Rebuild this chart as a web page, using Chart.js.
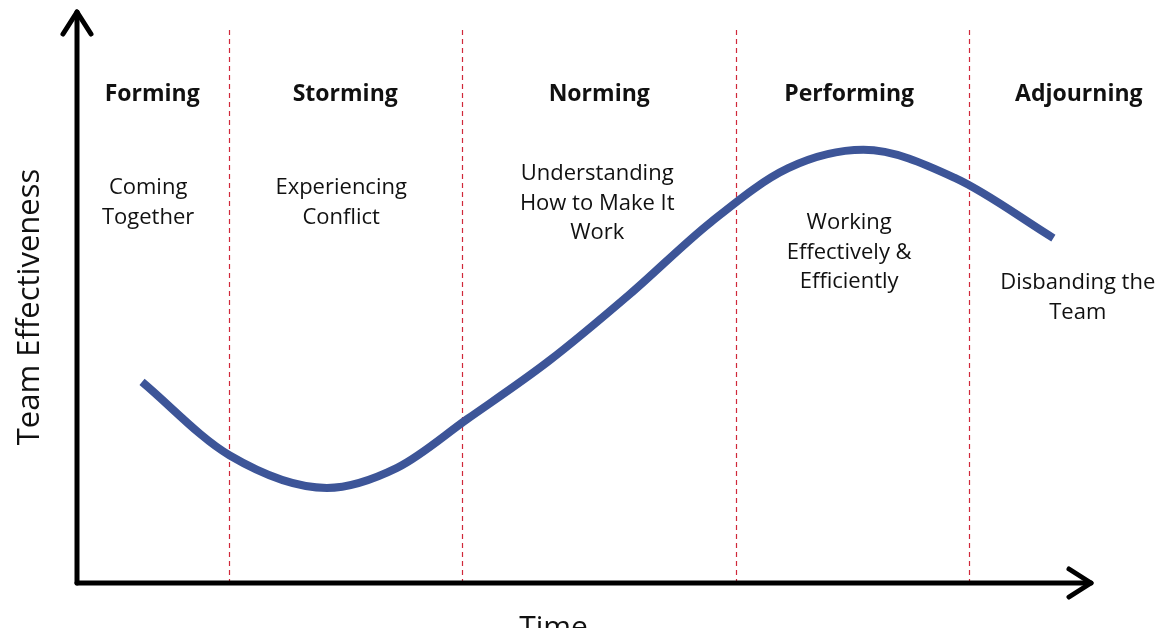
<!DOCTYPE html>
<html>
<head>
<meta charset="utf-8">
<script src="https://cdn.jsdelivr.net/npm/chart.js@4"></script>
<style>
  html, body { margin: 0; padding: 0; background: #fff; }
  .wrap { width: 1166px; height: 628px; }
</style>
</head>
<body>
<div class="wrap"><canvas id="teamChart"></canvas></div>
<script>
// ---------------------------- data ------------------------------
// time on x (0..100), effectiveness on y (0..100)
var timePoints = [6.4, 15.0, 24.6, 31.5, 38.4, 46.4, 54.4, 62.4, 70.0, 77.4, 86.4, 96.1];
var effectiveness = [35.1, 22.3, 16.6, 20.1, 28.6, 38.7, 50.4, 63.0, 72.4, 75.6, 70.7, 60.2];

var stageNames = ['Forming', 'Storming', 'Norming', 'Performing', 'Adjourning'];
var stageNotes = [
    ['Coming', 'Together'],
    ['Experiencing', 'Conflict'],
    ['Understanding', 'How to Make It', 'Work'],
    ['Working', 'Effectively &', 'Efficiently'],
    ['Disbanding the', 'Team']
];
var stageBounds = [15.0, 37.9, 64.9, 87.8];

var xTitle = 'Time';
var yTitle = 'Team Effectiveness';


// ---------------------------- drawing helpers ------------------------------

var fontFam = '"Open Sans", "Noto Sans", sans-serif';

// layout of the text blocks (x in time units, y in pixels)
var nameX = [7.4, 26.4, 51.4, 76.0, 98.6];
var noteX = [7.0, 26.0, 51.2, 76.0, 98.5];
var noteTop = [188, 188, 174, 223, 283];

function drawArrowAxes(chart) {
    let ctx = chart.ctx;
    let a = chart.chartArea;
    ctx.save();
    ctx.strokeStyle = '#000';
    ctx.lineWidth = 5;
    ctx.lineCap = 'round';
    ctx.lineJoin = 'round';

    // y axis
    ctx.beginPath();
    ctx.moveTo(a.left, a.bottom);
    ctx.lineTo(a.left, a.top + 2);
    ctx.stroke();
    ctx.beginPath();
    ctx.moveTo(a.left - 14, a.top + 24);
    ctx.lineTo(a.left, a.top + 2);
    ctx.lineTo(a.left + 14, a.top + 24);
    ctx.stroke();

    // x axis
    ctx.beginPath();
    ctx.moveTo(a.left, a.bottom);
    ctx.lineTo(a.right - 2, a.bottom);
    ctx.stroke();
    ctx.beginPath();
    ctx.moveTo(a.right - 24, a.bottom - 14);
    ctx.lineTo(a.right - 2, a.bottom);
    ctx.lineTo(a.right - 24, a.bottom + 14);
    ctx.stroke();
    ctx.restore();
}

const stagePlugin = {
    id: 'stages',
    beforeDatasetsDraw(chart) {
        let ctx = chart.ctx;
        let a = chart.chartArea;
        let xs = chart.scales.x;

        ctx.save();
        ctx.strokeStyle = '#d0283a';
        ctx.lineWidth = 1.2;
        ctx.setLineDash([5, 4]);
        stageBounds.forEach(b => {
            let px = Math.round(xs.getPixelForValue(b)) + 0.5;
            ctx.beginPath();
            ctx.moveTo(px, a.top + 20);
            ctx.lineTo(px, a.bottom);
            ctx.stroke();
        });
        ctx.restore();

        ctx.save();
        ctx.fillStyle = '#111';
        ctx.textAlign = 'center';
        ctx.textBaseline = 'middle';
        stageNames.forEach((name, i) => {
            ctx.font = 'bold 23px ' + fontFam;
            ctx.fillText(name, xs.getPixelForValue(nameX[i]), 94);
            ctx.font = '22px ' + fontFam;
            stageNotes[i].forEach((line, j) => {
                ctx.fillText(line, xs.getPixelForValue(noteX[i]), noteTop[i] + j * 29.5);
            });
        });

        // axis titles
        ctx.font = '30px ' + fontFam;
        ctx.textBaseline = 'alphabetic';
        ctx.fillText(xTitle, xs.getPixelForValue(46.9), 637);
        ctx.font = '31px ' + fontFam;
        ctx.textBaseline = 'middle';
        ctx.translate(30, 307);
        ctx.rotate(-Math.PI / 2);
        ctx.fillText(yTitle, 0, 0);
        ctx.restore();
    },
    afterDatasetsDraw(chart) {
        drawArrowAxes(chart);
    }
};


// ---------------------------- chart ------------------------------

const data = {
    datasets: [{
        label: 'Team Effectiveness',
        data: timePoints.map((t, i) => ({ x: t, y: effectiveness[i] })),
        borderColor: '#3d5598',
        borderWidth: 8,
        borderCapStyle: 'butt',
        pointRadius: 0,
        fill: false,
        cubicInterpolationMode: 'monotone'
    }]
};

const config = {
    type: 'line',
    data: data,
    plugins: [stagePlugin],
    options: {
        responsive: true,
        maintainAspectRatio: false,
        animation: false,
        clip: false,
        layout: {
            padding: { left: 77, right: 73, top: 10, bottom: 45 }
        },
        plugins: {
            legend: { display: false },
            tooltip: { enabled: false }
        },
        scales: {
            x: { type: 'linear', min: 0, max: 100, display: false },
            y: { min: 0, max: 100, display: false }
        }
    }
};

let ctx = document.getElementById('teamChart').getContext('2d');
new Chart(ctx, config);
</script>
</body>
</html>
